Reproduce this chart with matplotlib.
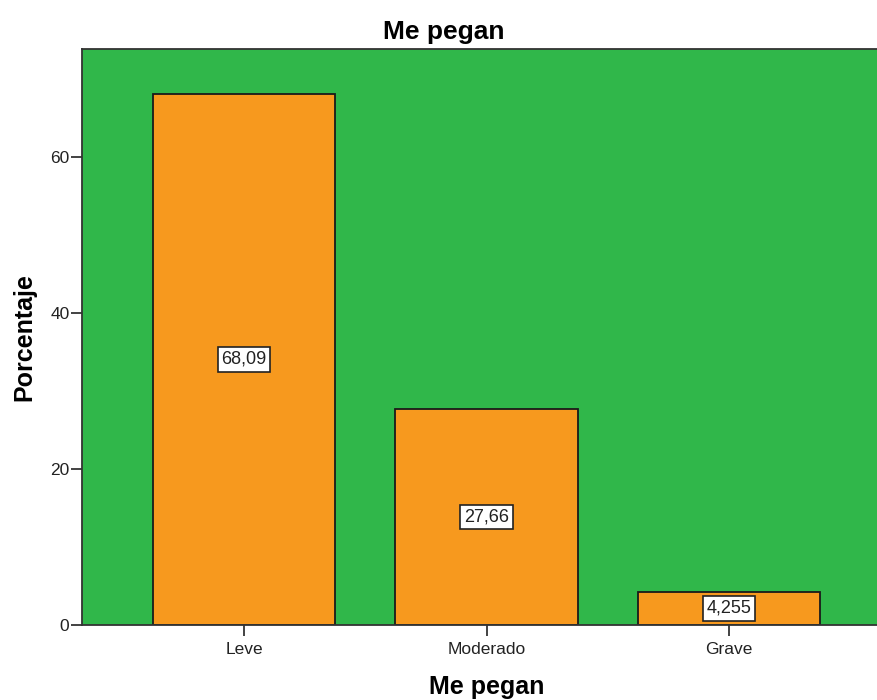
import matplotlib
matplotlib.use("Agg")
import matplotlib.pyplot as plt

categories = ["Leve", "Moderado", "Grave"]
values = [68.09, 27.66, 4.255]
value_labels = ["68,09", "27,66", "4,255"]
yticks = [0, 20, 40, 60]

FONT = "Liberation Sans"
fig = plt.figure(figsize=(8.78, 7.00), dpi=100)
ax = fig.add_axes([82/878, 75/700, 1 - 82/878 + 0.002, (625-49)/700])
ax.set_facecolor("#30b74a")
x = list(range(len(categories)))
ax.bar(x, values, width=0.752, color="#f7991e", edgecolor="#1a1a1a", linewidth=1.3, zorder=2)
for xi, v, lab in zip(x, values, value_labels):
    ax.text(xi, v / 2, lab, ha="center", va="center", fontsize=13,
            family=FONT, color="#222222", zorder=3,
            bbox=dict(boxstyle="square,pad=0.2", facecolor="white", edgecolor="#222222", linewidth=1.2))
ax.set_xlim(-0.668, 2.621)
ax.set_ylim(0, 73.85)
ax.set_yticks(yticks)
ax.set_xticks(x)
ax.set_xticklabels(categories)
ax.tick_params(axis="both", labelsize=12.5, colors="#222222", length=8, width=1.2)
ax.tick_params(axis="x", pad=4)
ax.tick_params(axis="y", pad=1)
for lbl in ax.get_xticklabels() + ax.get_yticklabels():
    lbl.set_family(FONT)
for s in ["left", "top", "bottom", "right"]:
    ax.spines[s].set_color("#333333")
    ax.spines[s].set_linewidth(1.3)
ax.set_title("Me pegan", fontsize=19, fontweight="bold", family=FONT, pad=7, x=(443-82)/(878-82))
ax.set_ylabel("Porcentaje", fontsize=18, fontweight="bold", family=FONT, labelpad=10)
ax.set_xlabel("Me pegan", fontsize=18, fontweight="bold", family=FONT)
ax.xaxis.set_label_coords((486-82)/(878-82), -0.087)
fig.savefig("out.png", dpi=100)
